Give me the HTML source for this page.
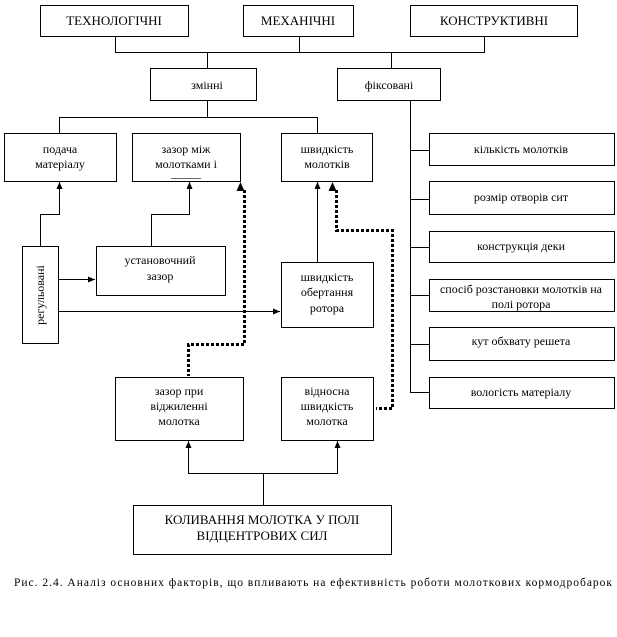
<!DOCTYPE html>
<html><head><meta charset="utf-8"><style>
body{margin:0;background:#fff}
svg text{font-family:"Liberation Serif","DejaVu Serif",serif;fill:#000}
</style></head><body>
<svg width="617" height="632" viewBox="0 0 617 632" xmlns="http://www.w3.org/2000/svg">
<defs><marker id="a" markerWidth="8" markerHeight="8" refX="7" refY="4" orient="auto" markerUnits="userSpaceOnUse"><path d="M0,1 L7,4 L0,7 Z" fill="#000"/></marker></defs>
<g fill="none" stroke="#000" stroke-width="1">
<rect x="40.5" y="5.5" width="148" height="31"/>
<rect x="243.5" y="5.5" width="110" height="31"/>
<rect x="410.5" y="5.5" width="167" height="31"/>
<path d="M115.5 36V52.5H484.5V36M299.5 36V52.5M207.5 52V68M391.5 52V68"/>
<rect x="150.5" y="68.5" width="106" height="32"/>
<rect x="337.5" y="68.5" width="103" height="32"/>
<path d="M207.5 100V117.5M59.5 133V117.5H317.5V133"/>
<rect x="4.5" y="133.5" width="112" height="48"/>
<rect x="132.5" y="133.5" width="108" height="48"/>
<rect x="281.5" y="133.5" width="91" height="48"/>
<path d="M410.5 100V392.5H429M410.5 150.5H429M410.5 199.5H429M410.5 247.5H429M410.5 295.5H429M410.5 344.5H429"/>
<rect x="429.5" y="133.5" width="185" height="32"/>
<rect x="429.5" y="181.5" width="185" height="33"/>
<rect x="429.5" y="231.5" width="185" height="31"/>
<rect x="429.5" y="279.5" width="185" height="32"/>
<rect x="429.5" y="327.5" width="185" height="33"/>
<rect x="429.5" y="377.5" width="185" height="31"/>
<rect x="22.5" y="246.5" width="36" height="97"/>
<rect x="96.5" y="246.5" width="129" height="49"/>
<rect x="281.5" y="262.5" width="92" height="65"/>
<path d="M40.5 246V214.5H59.5V182" marker-end="url(#a)"/>
<path d="M151.5 246V214.5H189.5V182" marker-end="url(#a)"/>
<path d="M58 279.5H95" marker-end="url(#a)"/>
<path d="M58 311.5H280" marker-end="url(#a)"/>
<path d="M317.5 262V182" marker-end="url(#a)"/>
<rect x="115.5" y="377.5" width="128" height="63"/>
<rect x="281.5" y="377.5" width="92" height="63"/>
<path d="M263.5 505V473.5H188.5V441" marker-end="url(#a)"/>
<path d="M263.5 473.5H337.5V441" marker-end="url(#a)"/>
<rect x="133.5" y="505.5" width="258" height="49"/>
<g stroke-width="3" stroke-dasharray="3 2">
<path d="M244.5 190V344.5H188.5V376"/>
<path d="M336.5 190V230.5H392.5V408.5H376"/>
</g>
</g>
<path d="M240.5 182l-4 9h8z M332.5 182l-4 9h8z" fill="#000"/>
<g font-size="13" text-anchor="middle">
<text x="114" y="25">ТЕХНОЛОГІЧНІ</text>
<text x="298" y="25">МЕХАНІЧНІ</text>
<text x="494" y="25">КОНСТРУКТИВНІ</text>
<g font-size="12">
<text x="207" y="89">змінні</text>
<text x="389" y="89">фіксовані</text>
<text x="60" y="153">подача</text><text x="60" y="168">матеріалу</text>
<text x="186" y="153">зазор між</text><text x="186" y="168">молотками і</text><text x="186" y="181">–––––</text>
<text x="327" y="153">швидкість</text><text x="327" y="168">молотків</text>
<text x="521" y="153">кількість  молотків</text>
<text x="521" y="201">розмір отворів сит</text>
<text x="521" y="250">конструкція деки</text>
<text x="521" y="293">спосіб розстановки молотків на</text><text x="521" y="308">полі ротора</text>
<text x="521" y="345">кут обхвату решета</text>
<text x="521" y="396">вологість  матеріалу</text>
<text x="160" y="264">установочний</text><text x="160" y="280">зазор</text>
<text x="327" y="281">швидкість</text><text x="327" y="296">обертання</text><text x="327" y="312">ротора</text>
<text x="179" y="395">зазор при</text><text x="179" y="410">віджиленні</text><text x="179" y="425">молотка</text>
<text x="327" y="395">відносна</text><text x="327" y="410">швидкість</text><text x="327" y="425">молотка</text>
<text transform="translate(44 295) rotate(-90)">регульовані</text>
</g>
<text x="262" y="524">КОЛИВАННЯ  МОЛОТКА У ПОЛІ</text>
<text x="262" y="540">ВІДЦЕНТРОВИХ  СИЛ</text>
<text x="14" y="586" font-size="11.5" text-anchor="start" textLength="598" lengthAdjust="spacing">Рис. 2.4. Аналіз  основних  факторів,  що впливають  на ефективність  роботи молоткових  кормодробарок</text>
</g>
</svg>
</body></html>
